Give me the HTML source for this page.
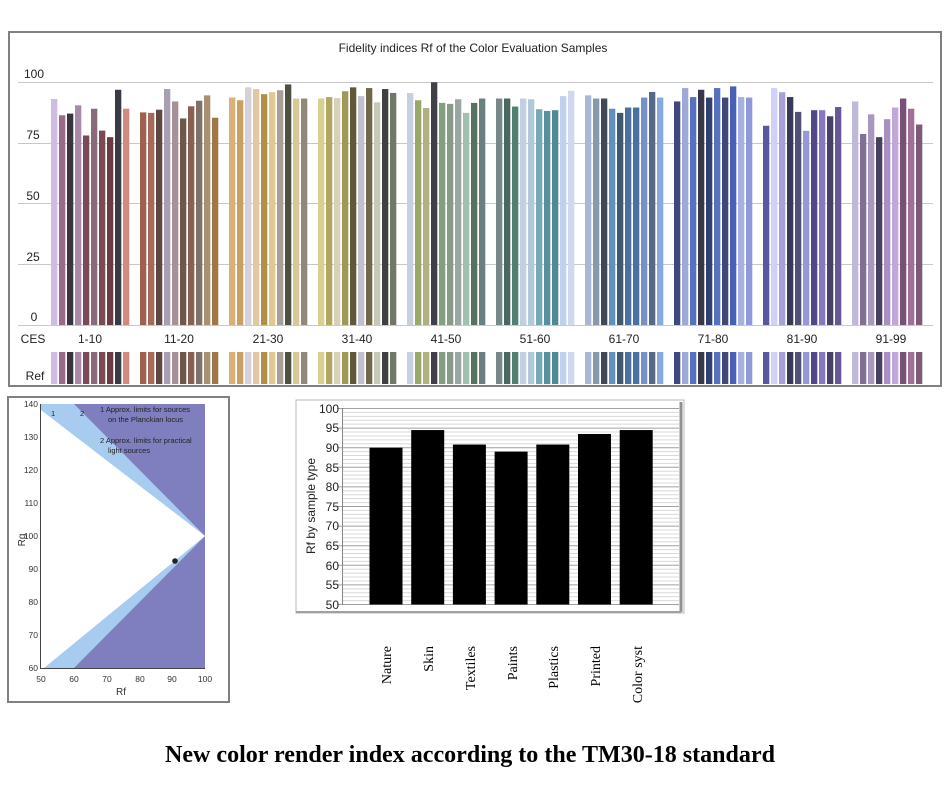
<!DOCTYPE html>
<html><head><meta charset="utf-8"><style>
body{margin:0;background:#fff;width:948px;height:804px;overflow:hidden}
svg{position:absolute;left:0;top:0}
text{font-family:"Liberation Sans",Arial,sans-serif}
text.sf{font-family:"Liberation Serif","Times New Roman",serif}
</style></head><body>
<svg id="s" width="948" height="804" viewBox="0 0 948 804">
<rect x="9" y="32" width="932" height="354" fill="#fff" stroke="#808080" stroke-width="2"/>
<text x="473" y="52" font-size="12" text-anchor="middle" fill="#222">Fidelity indices Rf of the Color Evaluation Samples</text>
<g stroke="#c8c8c8" stroke-width="1">
<line x1="18" x2="933" y1="82.5" y2="82.5"/><line x1="18" x2="933" y1="143.5" y2="143.5"/>
<line x1="18" x2="933" y1="203.5" y2="203.5"/><line x1="18" x2="933" y1="264.5" y2="264.5"/>
<line x1="18" x2="933" y1="325.5" y2="325.5"/>
</g>
<g font-size="12" fill="#222" text-anchor="middle">
<text x="34" y="78">100</text><text x="33" y="139">75</text><text x="33" y="200">50</text><text x="33" y="261">25</text><text x="34" y="321">0</text>
<text x="33" y="343">CES</text><text x="35" y="380">Ref</text>
<text x="90" y="343">1-10</text><text x="179" y="343">11-20</text><text x="268" y="343">21-30</text><text x="357" y="343">31-40</text><text x="446" y="343">41-50</text><text x="535" y="343">51-60</text><text x="624" y="343">61-70</text><text x="713" y="343">71-80</text><text x="802" y="343">81-90</text><text x="891" y="343">91-99</text>
</g>
<g id="bars"></g>

<rect x="8" y="397" width="221" height="305" fill="#fff" stroke="#808080" stroke-width="2"/>
<rect x="41" y="404" width="164" height="264" fill="#7f7fc0"/>
<polygon points="41,404 74,404 205,536 74,668 44,668" fill="#a8cbf0"/>
<polygon points="41,410 205,536 44,668 41,668" fill="#fff"/>
<circle cx="175" cy="561" r="2.8" fill="#222"/>
<g font-size="7.5" fill="#222">
<text x="51" y="416">1</text><text x="80" y="416">2</text>
<text x="100" y="412">1  Approx. limits for sources</text><text x="108" y="422">on the Planckian locus</text>
<text x="100" y="443">2  Approx. limits for practical</text><text x="108" y="453">light sources</text>
</g>
<g stroke="#444" stroke-width="1"><line x1="40.5" y1="404" x2="40.5" y2="668"/><line x1="40" y1="668.5" x2="205" y2="668.5"/></g>
<g font-size="8.5" fill="#333" text-anchor="end">
<text x="38" y="407">140</text><text x="38" y="440">130</text><text x="38" y="473">120</text><text x="38" y="506">110</text><text x="38" y="539">100</text><text x="38" y="572">90</text><text x="38" y="605">80</text><text x="38" y="638">70</text><text x="38" y="671">60</text>
</g>
<g font-size="8.5" fill="#333" text-anchor="middle">
<text x="41" y="682">50</text><text x="74" y="682">60</text><text x="107" y="682">70</text><text x="140" y="682">80</text><text x="172" y="682">90</text><text x="205" y="682">100</text>
<text x="121" y="695" font-size="10">Rf</text>
</g>
<text x="0" y="0" font-size="10" fill="#333" transform="translate(25,540) rotate(-90)" text-anchor="middle">Rg</text>

<g id="mid"></g>
<rect x="296" y="400" width="388" height="213" fill="none" stroke="#b8b8b8" stroke-width="1"/>
<line x1="681" y1="402" x2="681" y2="612" stroke="#909090" stroke-width="3"/>
<line x1="296" y1="612" x2="681" y2="612" stroke="#a0a0a0" stroke-width="2"/>
<line x1="342.5" y1="408" x2="342.5" y2="605" stroke="#888"/>
<g font-size="12" fill="#222" text-anchor="end">
<text x="339" y="413">100</text><text x="339" y="432">95</text><text x="339" y="452">90</text><text x="339" y="472">85</text><text x="339" y="491">80</text><text x="339" y="511">75</text><text x="339" y="530">70</text><text x="339" y="550">65</text><text x="339" y="570">60</text><text x="339" y="589">55</text><text x="339" y="609">50</text>
</g>
<text font-size="12" fill="#222" transform="translate(315,506) rotate(-90)" text-anchor="middle">Rf by sample type</text>
<g font-size="14" fill="#000" text-anchor="end">
<text class="sf" transform="translate(391,646) rotate(-90)">Nature</text>
<text class="sf" transform="translate(433,646) rotate(-90)">Skin</text>
<text class="sf" transform="translate(475,646) rotate(-90)">Textiles</text>
<text class="sf" transform="translate(517,646) rotate(-90)">Paints</text>
<text class="sf" transform="translate(558,646) rotate(-90)">Plastics</text>
<text class="sf" transform="translate(600,646) rotate(-90)">Printed</text>
<text class="sf" transform="translate(642,646) rotate(-90)">Color syst</text>
</g>
<text class="sf" x="470" y="762" font-size="24" font-weight="bold" text-anchor="middle" fill="#000" textLength="610" lengthAdjust="spacingAndGlyphs">New color render index according to the TM30-18 standard</text>
</svg>
<script>
var V=[[93,86.3,87,90.4,78,89,80,77.3,96.8,89],[87.5,87.3,88.6,97.1,92,85,90,92.3,94.5,85.3],[93.6,92.5,97.8,97.1,95,95.8,96.6,99,93.2,93.2],[93.2,93.8,93.4,96.2,97.8,94.2,97.5,91.6,97.1,95.5],[95.5,92.5,89.3,99.9,91.4,91,92.9,87.3,91.4,93.2],[93.2,93.2,89.9,93.2,92.9,88.8,88.1,88.4,94.2,96.4],[94.5,93.2,93.2,89,87.3,89.5,89.5,93.6,95.9,93.6],[92,97.5,93.8,96.8,93.6,97.5,93.6,98.2,93.8,93.6],[82,97.5,95.8,93.8,87.7,79.9,88.4,88.4,85.9,89.7],[92,78.6,86.7,77.3,84.7,89.5,93.2,89,82.5]];
var C=[["#d0bce0","#9a6a8a","#3a3540","#a88aa8","#7a4a5a","#8a6a7a","#7a4a55","#6a3a45","#3a3a45","#d08a80"],["#a06050","#a86a58","#604840","#a8a0b0","#a89098","#705848","#8a6050","#807068","#a89070","#a07848"],["#d8b078","#c8a068","#d8d0d8","#e0c8a0","#b09048","#e0c890","#a8a098","#505040","#d8c898","#908878"],["#d8d090","#b0a860","#d8d0b8","#a09858","#605838","#c0c0d0","#706848","#c8c8b8","#404040","#707868"],["#c8d0e0","#98a868","#b0b080","#404048","#80a080","#8a9a88","#98a8a0","#a0c0b0","#587060","#688080"],["#788888","#486860","#508070","#c0d0e0","#b0c8d8","#78a8b8","#5890a0","#508898","#c0d0f0","#d0d8f0"],["#a8b8d0","#8898b0","#404858","#6090c0","#405870","#4870a0","#4870a0","#7890c8","#586888","#88a8e0"],["#404880","#a0a8d8","#5870c0","#383848","#304070","#5870c0","#404878","#4860b8","#a8b0e0","#9098d8"],["#5858a0","#d0d0f8","#a8a0d8","#383858","#505078","#9898d8","#504888","#8878c0","#484068","#685898"],["#c0b8d8","#807098","#a898c0","#484060","#a890c0","#c0a8d8","#785078","#a07098","#805878"]];
var ns="http://www.w3.org/2000/svg",b=document.getElementById("bars");
function R(p,x,y,w,h,f,st){var r=document.createElementNS(ns,"rect");r.setAttribute("x",x);r.setAttribute("y",y);r.setAttribute("width",w);r.setAttribute("height",h);r.setAttribute("fill",f);if(st){r.setAttribute("stroke",st);}p.appendChild(r);}
for(var g=0;g<10;g++)for(var k=0;k<V[g].length;k++){var x=51+89*g+8*k,t=325-V[g][k]*2.43;R(b,x,t,6.3,325-t,C[g][k]);R(b,x,352,6.3,32,C[g][k]);}
var m=document.getElementById("mid");
R(m,343,408,336,197,"#fff");
for(var i=0;i<=50;i++){var y=604.5-i*3.92;var l=document.createElementNS(ns,"line");l.setAttribute("x1",i%5?343:337);l.setAttribute("x2",679);l.setAttribute("y1",y);l.setAttribute("y2",y);l.setAttribute("stroke",i%5?"#d8d8d8":"#a0a0a0");m.appendChild(l);}
var M=[90,94.5,90.8,89,90.8,93.5,94.5];
for(var j=0;j<7;j++){var t=604.5-(M[j]-50)*3.92;R(m,369.5+41.7*j,t,33,604.5-t,"#000");}
</script>
</body></html>
